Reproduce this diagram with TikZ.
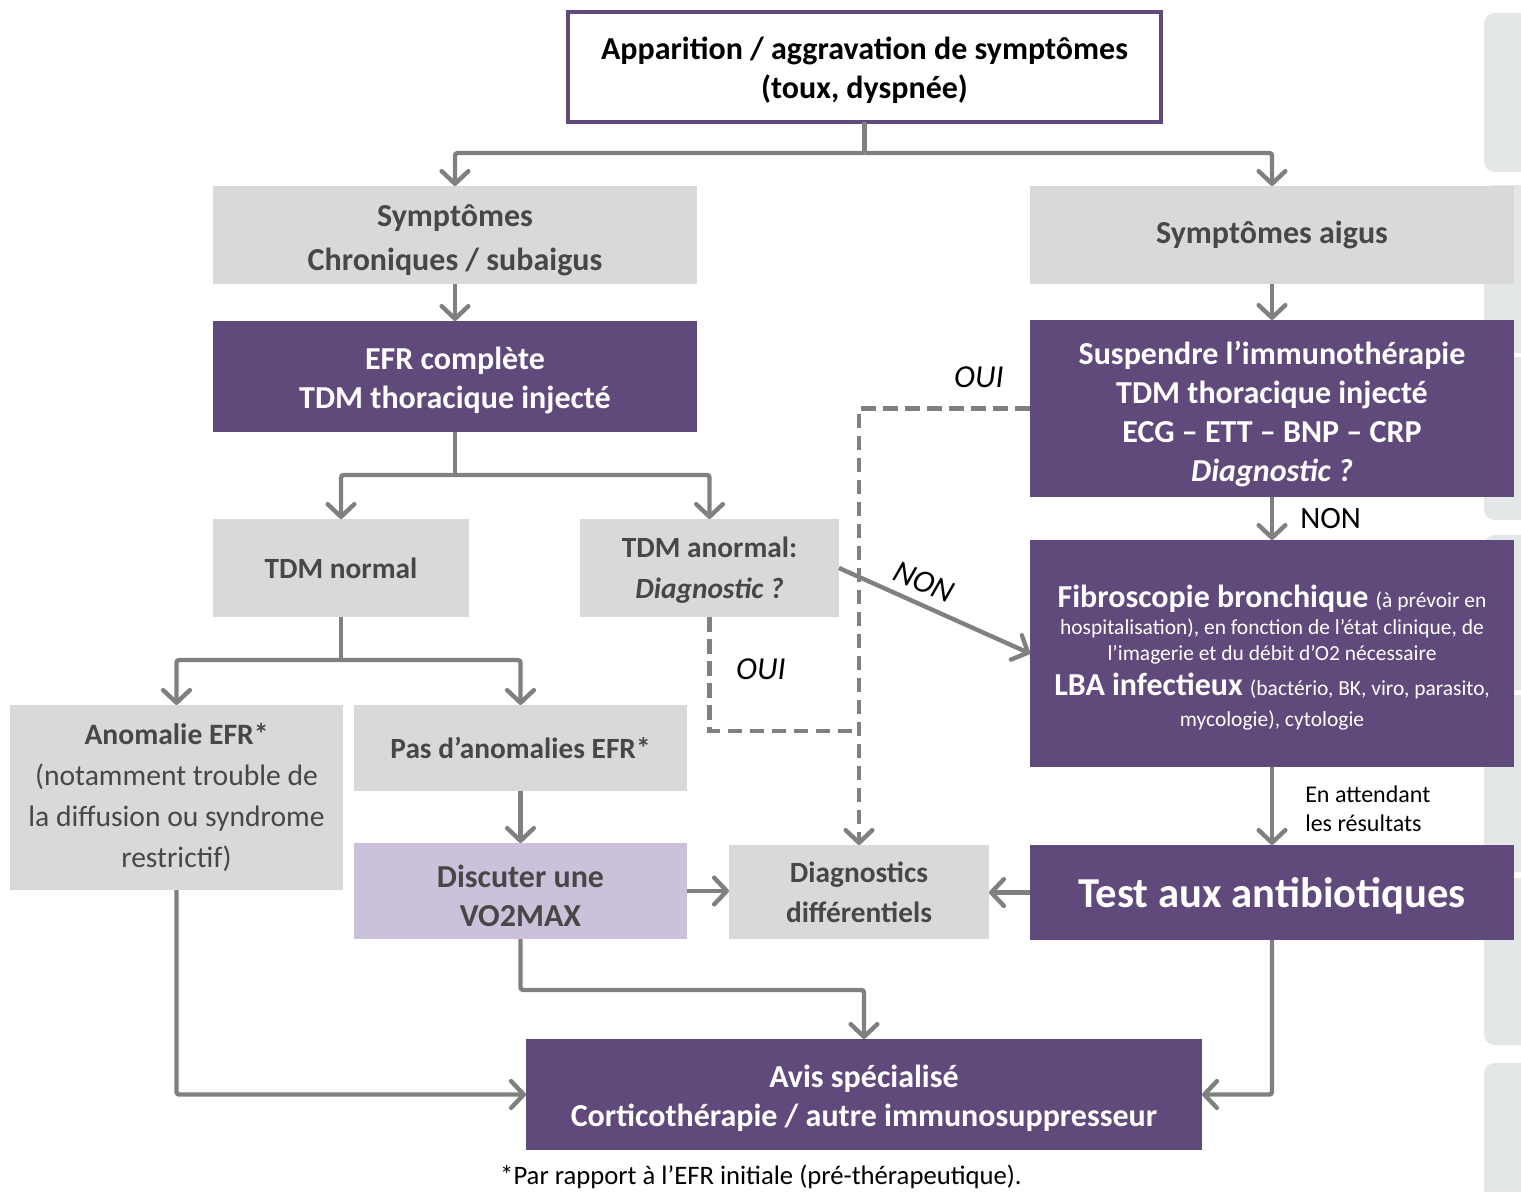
\documentclass[tikz,border=0pt]{standalone}
\usepackage{fontspec}
\setmainfont{Carlito}
\usetikzlibrary{arrows.meta,calc}
\definecolor{purp}{HTML}{604A7B}
\definecolor{greybox}{HTML}{D9D9D9}
\definecolor{lpurp}{HTML}{CCC1DA}
\definecolor{lineg}{HTML}{808080}
\definecolor{txtg}{HTML}{474747}
\definecolor{tabg}{HTML}{E4E7E8}
\newcommand{\Ts}[1]{\rule{0pt}{#1}}
\newcommand{\Ds}[1]{\rule[-#1]{0pt}{#1}}
\begin{document}
\begin{tikzpicture}[x=0.75pt,y=-0.75pt,
 box/.style={rectangle, inner sep=0pt, outer sep=0pt, align=center},
 pbox/.style={box, fill=purp, text=white, font=\fontsize{24}{29.25}\selectfont\bfseries},
 gbox/.style={box, fill=greybox, text=txtg, font=\fontsize{22}{29.25}\selectfont\bfseries},
 conn/.style={draw=lineg, line width=3.3pt, rounded corners=2pt},
 arr/.style={conn, -{Straight Barb[length=9.5pt,width=20pt,round]}},
 dashln/.style={draw=lineg, line width=3.3pt, dash pattern=on 11pt off 5.5pt},
 lbl/.style={font=\fontsize{23.3}{26}\selectfont, text=black, inner sep=0pt},
 fibtxt/.style={anchor=base, text=white, inner sep=0pt}
]
\useasboundingbox (0,0) rectangle (1521,1192);
\fill[white] (0,0) rectangle (1521,1192);
\begin{scope}
\clip (0,0) rectangle (1521,1192);
\foreach \a/\b in {13/172, 185/353, 357/520, 535/690, 695/872, 878/1045, 1063/1220}
  \fill[tabg, rounded corners=8pt] (1484,\a) rectangle (1570,\b);
\end{scope}

% nodes
\node[box, draw=purp, line width=3pt, fill=white, minimum width=444.75pt, minimum height=82.5pt,
  font=\fontsize{24}{29.25}\selectfont\bfseries] (top) at (864.5,67)
  {\Ts{30pt}Apparition / aggravation de symptômes\\(toux, dyspnée)\Ds{11.6pt}};
\node[gbox, minimum width=363pt, minimum height=73.5pt, font=\fontsize{24}{33}\selectfont\bfseries] (chron) at (455,235)
  {\Ts{30.6pt}Symptômes\\Chroniques / subaigus\Ds{9.9pt}};
\node[gbox, minimum width=363pt, minimum height=73.5pt, font=\fontsize{24}{29}\selectfont\bfseries] (aigus) at (1272,235) {Symptômes aigus};
\node[pbox, minimum width=363pt, minimum height=83.25pt] (efr) at (455,376.5)
  {\Ts{31.5pt}EFR complète\\TDM thoracique injecté\Ds{12.3pt}};
\node[pbox, minimum width=363pt, minimum height=132.75pt] (susp) at (1272,408.5)
  {\Ts{33pt}Suspendre l’immunothérapie\\TDM thoracique injecté\\ECG – ETT – BNP – CRP\\\textit{Diagnostic ?}\Ds{11.6pt}};
\node[pbox, minimum width=363pt, minimum height=170.25pt] (fib) at (1272,653.5) {};
\node[fibtxt] (fibA) at (1272,607) {\fontsize{24}{24}\selectfont\bfseries Fibroscopie bronchique \fontsize{16.1}{16}\selectfont\mdseries(à prévoir en};
\node[fibtxt, font=\fontsize{16.1}{16}\selectfont] (fibB) at (1272,634) {hospitalisation), en fonction de l’état clinique, de};
\node[fibtxt, font=\fontsize{16.1}{16}\selectfont] (fibC) at (1272,660) {l’imagerie et du débit d’O2 nécessaire};
\node[fibtxt] (fibD) at (1272,695) {\fontsize{24}{24}\selectfont\bfseries LBA infectieux \fontsize{16.1}{16}\selectfont\mdseries(bactério, BK, viro, parasito,};
\node[fibtxt, font=\fontsize{16.1}{16}\selectfont] (fibE) at (1272,726) {mycologie), cytologie};
\node[pbox, minimum width=363pt, minimum height=71.25pt, font=\fontsize{32}{34}\selectfont\bfseries] (test) at (1272,892.5)
  {\Ts{36pt}Test aux antibiotiques\Ds{13.6pt}};
\node[gbox, minimum width=195pt, minimum height=70.5pt, font=\fontsize{22}{30}\selectfont\bfseries] (diag) at (859,892)
  {Diagnostics\\différentiels};
\node[gbox, minimum width=192pt, minimum height=73.5pt] (tdmn) at (341,568) {TDM normal};
\node[gbox, minimum width=194.25pt, minimum height=73.5pt, font=\fontsize{22}{30.75}\selectfont\bfseries] (tdma) at (709.5,568)
  {\Ts{25pt}TDM anormal:\\\textit{Diagnostic ?}\Ds{9.4pt}};
\node[gbox, minimum width=249.75pt, minimum height=138.75pt, font=\fontsize{22.2}{30.75}\selectfont] (anom) at (176.5,797.5)
  {\textbf{Anomalie EFR*}\\(notamment trouble de\\la diffusion ou syndrome\\restrictif)};
\node[gbox, minimum width=249.75pt, minimum height=64.5pt] (pas) at (520.5,748) {Pas d’anomalies EFR*};
\node[gbox, fill=lpurp, minimum width=249.75pt, minimum height=72pt, font=\fontsize{24}{29.25}\selectfont\bfseries] (vo2) at (520.5,891)
  {\Ts{33.5pt}Discuter une\\VO2MAX\Ds{9.1pt}};
\node[pbox, minimum width=507pt, minimum height=83.25pt] (avis) at (864,1094.5)
  {\Ts{31.5pt}Avis spécialisé\\Corticothérapie / autre immunosuppresseur\Ds{12.3pt}};

% labels
\node[lbl, anchor=west] (non1) at (1300,519) {NON};
\node[lbl, font=\fontsize{24}{26}\selectfont\itshape] (oui1) at (979,377) {OUI};
\node[lbl, font=\fontsize{24}{26}\selectfont\itshape] (oui2) at (761,669) {OUI};
\node[lbl, font=\fontsize{24}{26}\selectfont\itshape, rotate=-22.7] (non2) at (924,582) {NON};
\node[anchor=west, align=left, inner sep=0pt, font=\fontsize{18}{21.75}\selectfont] (wait) at (1305,809)
  {En attendant\\les résultats};
\node[inner sep=0pt, font=\fontsize{20}{22}\selectfont] (foot) at (761,1177)
  {*Par rapport à l’EFR initiale (pré-thérapeutique).};

% connectors
\coordinate (j1) at (864.5,153);
\draw[conn] (top.south) -- (j1);
\draw[arr] (j1) -| (chron.north);
\draw[arr] (j1) -| (aigus.north);
\draw[arr] (chron.south) -- (efr.north);
\draw[arr] (aigus.south) -- (susp.north);
\draw[arr] (susp.south) -- (fib.north);
\draw[arr] (fib.south) -- (test.north);
\coordinate (j2) at (455,475);
\draw[conn] (efr.south) -- (j2);
\draw[arr] (j2) -| (tdmn.north);
\draw[arr] (j2) -| (tdma.north);
\coordinate (j3) at (341,660);
\draw[conn] (tdmn.south) -- (j3);
\draw[arr] (j3) -| (anom.north);
\draw[arr] (j3) -| (pas.north);
\draw[arr] (pas.south) -- (vo2.north);
\draw[arr] (vo2.east) -- (vo2.east -| diag.west);
\draw[arr] (test.west) -- (test.west -| diag.east);
\draw[arr] (tdma.east) -- (fib.west);
\coordinate (dj) at (859,731);
\draw[dashln] (tdma.south) |- (dj);
\draw[dashln, -{Straight Barb[length=9.5pt,width=20pt,round]}] (susp.west) -| (diag.north);
\coordinate (j4) at (520.5,990);
\draw[arr] (vo2.south) -- (j4) -| (avis.north);
\draw[arr] (anom.south) |- (avis.west);
\draw[arr] (test.south) |- (avis.east);
\end{tikzpicture}
\end{document}
